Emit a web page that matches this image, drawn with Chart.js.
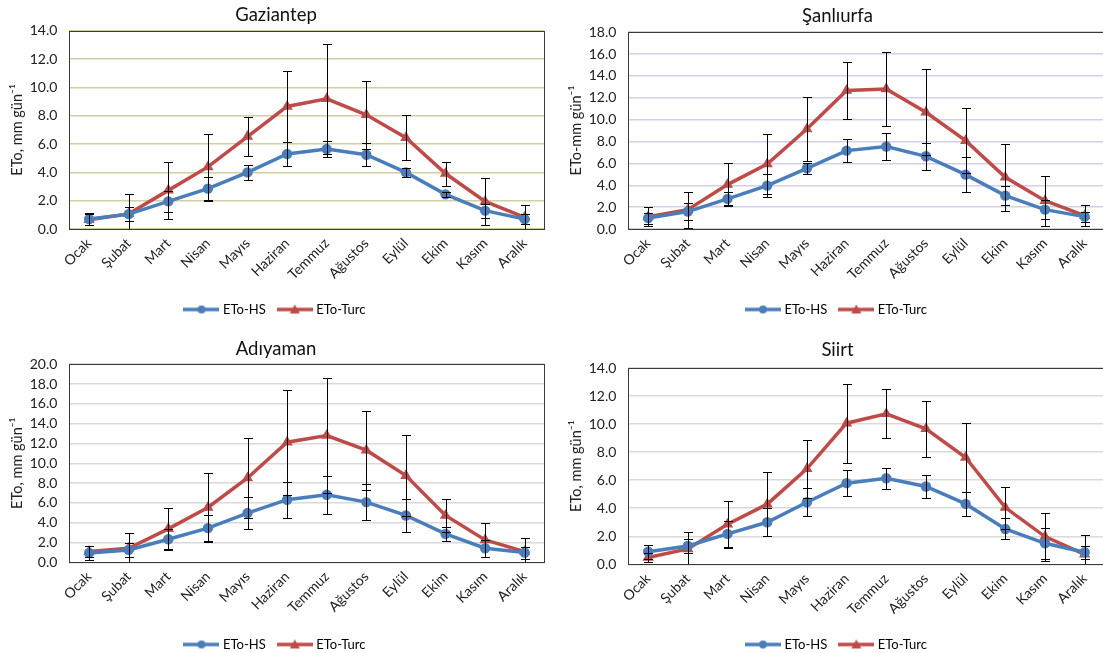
<!DOCTYPE html>
<html>
<head>
<meta charset="utf-8">
<script src="https://cdn.jsdelivr.net/npm/chart.js@4.4.1/dist/chart.umd.min.js"></script>
<style>
  html, body { margin: 0; padding: 0; background: #fff; width: 1103px; height: 653px; overflow: hidden; }
  canvas { position: absolute; display: block; }
</style>
</head>
<body>
<canvas id="gaziantep" width="551" height="326" style="left:0;top:0"></canvas>
<canvas id="sanliurfa" width="552" height="326" style="left:559px;top:0"></canvas>
<canvas id="adiyaman" width="551" height="335" style="left:0;top:326px"></canvas>
<canvas id="siirt" width="552" height="335" style="left:559px;top:326px"></canvas>
<script>
// Months on the category axis
const months = ['Ocak', 'Şubat', 'Mart', 'Nisan', 'Mayıs', 'Haziran', 'Temmuz', 'Ağustos', 'Eylül', 'Ekim', 'Kasım', 'Aralık'];
const seriesNames = ['ETo-HS', 'ETo-Turc'];

// Gaziantep: monthly mean ETo (mm/day) and standard deviation
const gaziantepHS      = [0.70, 1.05, 1.95, 2.85, 4.00, 5.30, 5.65, 5.25, 4.00, 2.45, 1.30, 0.70];
const gaziantepTurc    = [0.65, 1.07, 2.73, 4.39, 6.53, 8.66, 9.20, 8.07, 6.45, 3.92, 1.95, 0.83];
const gaziantepHSErr   = [0.40, 0.50, 0.75, 0.85, 0.55, 0.85, 0.55, 0.80, 0.30, 0.20, 0.50, 0.35];
const gaziantepTurcErr = [0.40, 1.40, 2.00, 2.35, 1.35, 2.50, 3.90, 2.40, 1.60, 0.85, 1.65, 0.85];

// Şanlıurfa
const sanliurfaHS      = [1.00, 1.59, 2.75, 3.97, 5.55, 7.17, 7.54, 6.65, 4.97, 3.05, 1.77, 1.13];
const sanliurfaTurc    = [1.13, 1.77, 4.06, 5.95, 9.15, 12.66, 12.81, 10.68, 8.08, 4.73, 2.59, 1.22];
const sanliurfaHSErr   = [0.50, 0.75, 0.60, 1.05, 0.50, 1.07, 1.25, 1.25, 1.60, 0.90, 0.85, 0.45];
const sanliurfaTurcErr = [0.85, 1.65, 1.95, 2.75, 2.90, 2.60, 3.40, 3.95, 2.97, 3.05, 2.30, 0.98];

// Adıyaman
const adiyamanHS      = [0.95, 1.25, 2.33, 3.45, 4.97, 6.32, 6.82, 6.08, 4.73, 2.87, 1.42, 0.98];
const adiyamanTurc    = [1.08, 1.42, 3.38, 5.54, 8.51, 12.13, 12.80, 11.32, 8.75, 4.73, 2.26, 1.08];
const adiyamanHSErr   = [0.70, 0.68, 1.00, 1.30, 1.65, 1.80, 1.90, 1.80, 1.65, 0.70, 0.85, 0.60];
const adiyamanTurcErr = [0.55, 1.50, 2.10, 3.45, 4.06, 5.30, 5.80, 4.00, 4.10, 1.65, 1.75, 1.35];

// Siirt
const siirtHS      = [0.90, 1.31, 2.17, 3.00, 4.43, 5.79, 6.14, 5.55, 4.31, 2.52, 1.50, 0.86];
const siirtTurc    = [0.48, 1.10, 2.86, 4.29, 6.81, 10.07, 10.74, 9.67, 7.62, 4.05, 1.98, 0.71];
const siirtHSErr   = [0.50, 0.50, 0.90, 1.00, 1.00, 0.95, 0.75, 0.80, 0.85, 0.75, 1.10, 0.45];
const siirtTurcErr = [0.30, 1.20, 1.68, 2.28, 2.07, 2.82, 1.76, 2.00, 2.44, 1.50, 1.71, 1.39];

// Axis settings per panel
const yMaxima = [14, 18, 20, 14];
const yTitles = ['ETo, mm gün⁻¹', 'ETo-mm gün⁻¹', 'ETo, mm gün⁻¹', 'ETo, mm gün⁻¹'];
const titles  = ['Gaziantep', 'Şanlıurfa', 'Adıyaman', 'Siirt'];

const FONT = "Lato, 'Open Sans', sans-serif";
const BLUE = '#4a7ebb';
const RED  = '#be4b48';

// Legend swatch: a short line with the series marker in the middle
function legendIcon(color, marker) {
  const c = document.createElement('canvas');
  c.width = 36; c.height = 12;
  const g = c.getContext('2d');
  g.strokeStyle = color; g.lineWidth = 3.5;
  g.beginPath(); g.moveTo(0, 6); g.lineTo(36, 6); g.stroke();
  g.fillStyle = color;
  g.beginPath();
  if (marker === 'circle') {
    g.arc(18, 6, 4, 0, Math.PI * 2);
  } else {
    g.moveTo(18, 1); g.lineTo(23, 10); g.lineTo(13, 10); g.closePath();
  }
  g.fill();
  return c;
}
const icons = [legendIcon(BLUE, 'circle'), legendIcon(RED, 'triangle')];

// Vertical error bars with caps, clipped to the plot area
function errorBarPlugin(errors) {
  return {
    id: 'errorBars',
    afterDatasetsDraw(chart) {
      const { ctx, chartArea: a, scales: { x, y } } = chart;
      ctx.save();
      ctx.beginPath();
      ctx.rect(a.left, a.top, a.right - a.left, a.bottom - a.top);
      ctx.clip();
      ctx.strokeStyle = '#000';
      ctx.lineWidth = 1;
      chart.data.datasets.forEach((ds, d) => {
        ds.data.forEach((v, i) => {
          const e = errors[d][i];
          const px = Math.round(x.getPixelForValue(i)) + 0.5;
          const yt = Math.round(y.getPixelForValue(v + e)) + 0.5;
          const yb = Math.round(y.getPixelForValue(v - e)) + 0.5;
          ctx.beginPath();
          ctx.moveTo(px, yt); ctx.lineTo(px, yb);
          ctx.moveTo(px - 4.5, yt); ctx.lineTo(px + 4.5, yt);
          ctx.moveTo(px - 4.5, yb); ctx.lineTo(px + 4.5, yb);
          ctx.stroke();
        });
      });
      ctx.restore();
    }
  };
}

// Dark frame around the plot area
const framePlugin = {
  id: 'frame',
  beforeDatasetsDraw(chart) {
    const { ctx, chartArea: a } = chart;
    ctx.save();
    ctx.strokeStyle = '#3a3a3a';
    ctx.lineWidth = 1;
    ctx.strokeRect(Math.round(a.left) + 0.5, Math.round(a.top) + 0.5,
                   Math.round(a.right - a.left), Math.round(a.bottom - a.top));
    ctx.restore();
  }
};

function makeChart(id, idx, hs, turc, hsErr, turcErr, lay) {
  return new Chart(document.getElementById(id), {
    type: 'line',
    data: {
      labels: months,
      datasets: [
        { label: seriesNames[0], data: hs, borderColor: BLUE, backgroundColor: BLUE,
          borderWidth: 3.5, pointStyle: 'circle', pointRadius: 5.2, pointBorderWidth: 0,
          tension: 0 },
        { label: seriesNames[1], data: turc, borderColor: RED, backgroundColor: RED,
          borderWidth: 3.5, pointStyle: 'triangle', pointRadius: 6.5, pointBorderWidth: 0,
          tension: 0 }
      ]
    },
    options: {
      responsive: false,
      animation: false,
      events: [],
      layout: { padding: { left: 5, right: lay.padRight, top: 0, bottom: 0 } },
      scales: {
        x: {
          offset: true,
          grid: { display: false, drawTicks: false },
          border: { display: false },
          ticks: { autoSkip: false, maxRotation: 45, minRotation: 45, padding: 6,
                   color: '#222', font: { family: FONT, size: 14 } },
          afterFit(s) { s.height = lay.xHeight; }
        },
        y: {
          min: 0, max: yMaxima[idx],
          grid: { color: lay.grid, lineWidth: 1.5, drawTicks: false },
          border: { display: false },
          ticks: { stepSize: 2, padding: 12, color: '#222', font: { family: FONT, size: 14 },
                   callback: v => Number(v).toFixed(1) },
          title: { display: true, text: yTitles[idx], color: '#222',
                   font: { family: FONT, size: 14.5 }, padding: { top: 4, bottom: 4 } },
          afterFit(s) { s.width = 64.3; }
        }
      },
      plugins: {
        title: { display: true, text: titles[idx], color: '#111',
                 font: { family: FONT, size: 18.5, weight: 'normal' },
                 padding: { top: lay.titleTop, bottom: lay.titleBottom } },
        legend: {
          position: 'bottom',
          labels: {
            usePointStyle: true, pointStyleWidth: 30, padding: 14,
            color: '#222', font: { family: FONT, size: 13 },
            generateLabels(chart) {
              return chart.data.datasets.map((ds, i) => ({
                text: ds.label, pointStyle: icons[i], fillStyle: ds.borderColor,
                strokeStyle: ds.borderColor, lineWidth: 0, hidden: false, datasetIndex: i
              }));
            }
          }
        },
        tooltip: { enabled: false }
      }
    },
    plugins: [framePlugin, errorBarPlugin([hsErr, turcErr])]
  });
}

makeChart('gaziantep', 0, gaziantepHS, gaziantepTurc, gaziantepHSErr, gaziantepTurcErr,
  { padRight: 4, xHeight: 60, titleTop: 4, titleBottom: 4.7, grid: '#d3cd9f' });
makeChart('sanliurfa', 1, sanliurfaHS, sanliurfaTurc, sanliurfaHSErr, sanliurfaTurcErr,
  { padRight: 0, xHeight: 60, titleTop: 4.8, titleBottom: 5.2, grid: '#d6cde6' });
makeChart('adiyaman', 2, adiyamanHS, adiyamanTurc, adiyamanHSErr, adiyamanTurcErr,
  { padRight: 4, xHeight: 61.7, titleTop: 12, titleBottom: 4, grid: '#d9d9d9' });
makeChart('siirt', 3, siirtHS, siirtTurc, siirtHSErr, siirtTurcErr,
  { padRight: 0, xHeight: 59.7, titleTop: 13, titleBottom: 6.9, grid: '#d9d9d9' });
</script>
</body>
</html>
